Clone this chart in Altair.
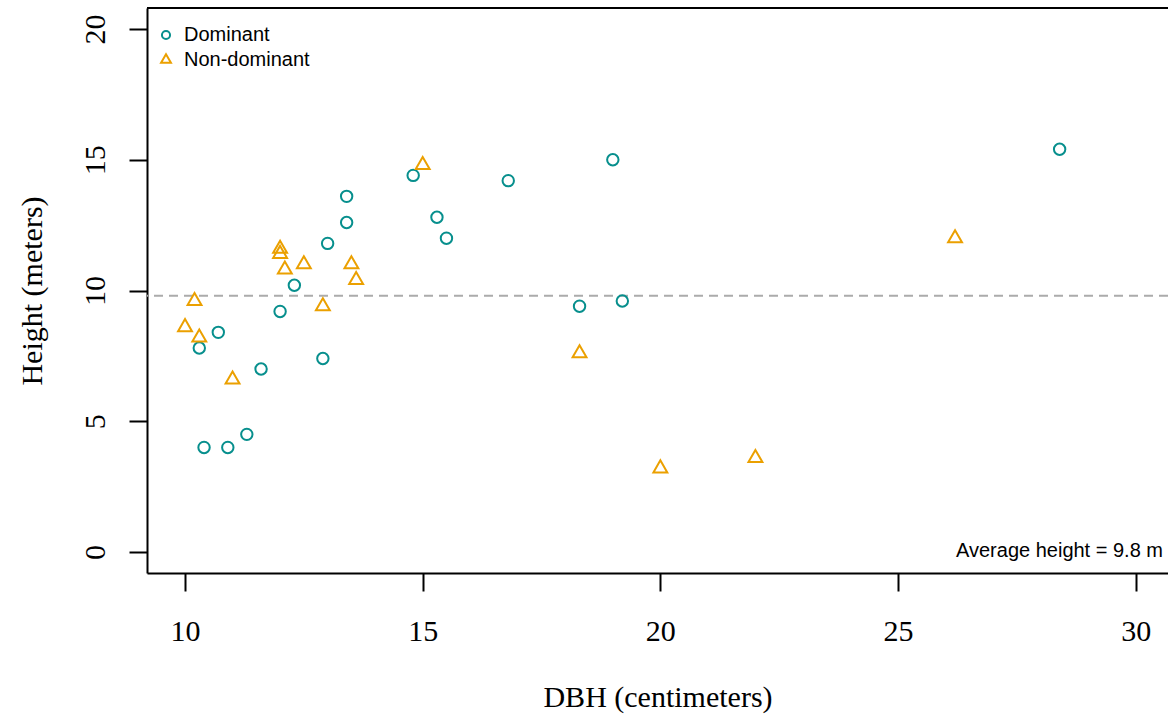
import altair as alt
import pandas as pd

# ---- data ----
groups = ["Dominant", "Non-dominant"]

dom_dbh = [10.3, 10.4, 10.7, 10.9, 11.3, 11.6, 12.0, 12.3, 12.9, 13.0,
           13.4, 13.4, 14.8, 15.3, 15.5, 16.8, 18.3, 19.0, 19.2, 28.4]
dom_height = [7.8, 4.0, 8.4, 4.0, 4.5, 7.0, 9.2, 10.2, 7.4, 11.8,
              12.6, 13.6, 14.4, 12.8, 12.0, 14.2, 9.4, 15.0, 9.6, 15.4]

nd_dbh = [10.0, 10.2, 10.3, 11.0, 12.0, 12.0, 12.1, 12.5, 12.9, 13.5,
          13.6, 15.0, 18.3, 20.0, 22.0, 26.2]
nd_height = [8.6, 9.6, 8.2, 6.6, 11.6, 11.4, 10.8, 11.0, 9.4, 11.0,
             10.4, 14.8, 7.6, 3.2, 3.6, 12.0]

avg_height = 9.8
x_ticks = [10, 15, 20, 25, 30]
y_ticks = [0, 5, 10, 15, 20]
x_title = "DBH (centimeters)"
y_title = "Height (meters)"
note = f"Average height = {avg_height} m"

# ---- styling ----
TEAL = "#078F8D"
ORANGE = "#EBA000"
# R-style triangle (pch 2) centred like R does
TRIANGLE = "M0,-1.404L1.216,0.703L-1.216,0.703Z"

W, H = 1021, 565

df = pd.DataFrame({
    "dbh": dom_dbh + nd_dbh,
    "height": dom_height + nd_height,
    "group": [groups[0]] * len(dom_dbh) + [groups[1]] * len(nd_dbh),
})
avg_df = pd.DataFrame({"avg": [avg_height]})

x_scale = alt.Scale(domain=[9.2, 30.68], nice=False, zero=False)
y_scale = alt.Scale(domain=[-0.8, 20.8], nice=False, zero=False)

x_axis = alt.Axis(values=x_ticks, title=x_title, grid=False,
                  labelFont="Liberation Serif", labelFontSize=30, labelColor="black",
                  labelBaseline="middle", labelPadding=40,
                  titleFont="Liberation Serif", titleFontSize=30, titleFontWeight="normal",
                  titleColor="black", titleBaseline="alphabetic", titleY=133,
                  tickSize=18, tickWidth=2, tickColor="black",
                  domainColor="black", domainWidth=2, labelFlush=False)
y_axis = alt.Axis(values=y_ticks, title=y_title, grid=False,
                  labelFont="Liberation Serif", labelFontSize=30, labelColor="black",
                  labelAngle=-90, labelAlign="center", labelBaseline="middle",
                  labelPadding=34,
                  titleFont="Liberation Serif", titleFontSize=30, titleFontWeight="normal",
                  titleColor="black", titleAngle=-90, titleAlign="center",
                  titleBaseline="middle", titleX=-115, titleY=H / 2,
                  tickSize=18, tickWidth=2, tickColor="black",
                  domainColor="black", domainWidth=2, labelFlush=False)

avg_line = alt.Chart(avg_df).mark_rule(
    color="#ABABAB", strokeDash=[9, 6], strokeWidth=2
).encode(y=alt.Y("avg:Q", scale=y_scale, axis=y_axis))

points = alt.Chart(df).mark_point(
    filled=False, strokeWidth=2, size=130, opacity=1
).encode(
    x=alt.X("dbh:Q", scale=x_scale, axis=x_axis),
    y=alt.Y("height:Q", scale=y_scale, axis=y_axis),
    color=alt.Color("group:N",
                    scale=alt.Scale(domain=groups, range=[TEAL, ORANGE]),
                    legend=alt.Legend(orient="none", legendX=9, legendY=17,
                                      title=None, padding=0,
                                      labelFont="Liberation Sans", labelFontSize=20,
                                      labelColor="black", labelOffset=8,
                                      symbolSize=66, symbolStrokeWidth=2,
                                      rowPadding=5)),
    shape=alt.Shape("group:N",
                    scale=alt.Scale(domain=groups, range=["circle", TRIANGLE])),
)

top_border = alt.Chart(avg_df).mark_rule(color="black", strokeWidth=2).encode(
    y=alt.value(0)
)

note_text = alt.Chart(avg_df).mark_text(
    align="right", baseline="alphabetic", font="Liberation Sans",
    fontSize=20, color="black"
).encode(x=alt.value(1016), y=alt.value(548.5), text=alt.value(note))

chart = alt.layer(avg_line, points, top_border, note_text).properties(
    width=W, height=H,
    autosize=alt.AutoSizeParams(type="none"),
    padding={"left": 147, "top": 8, "right": 0, "bottom": 146},
    background="white",
).configure_view(strokeWidth=0)

chart.save("out.html", embed_options={"renderer": "svg", "actions": False})
